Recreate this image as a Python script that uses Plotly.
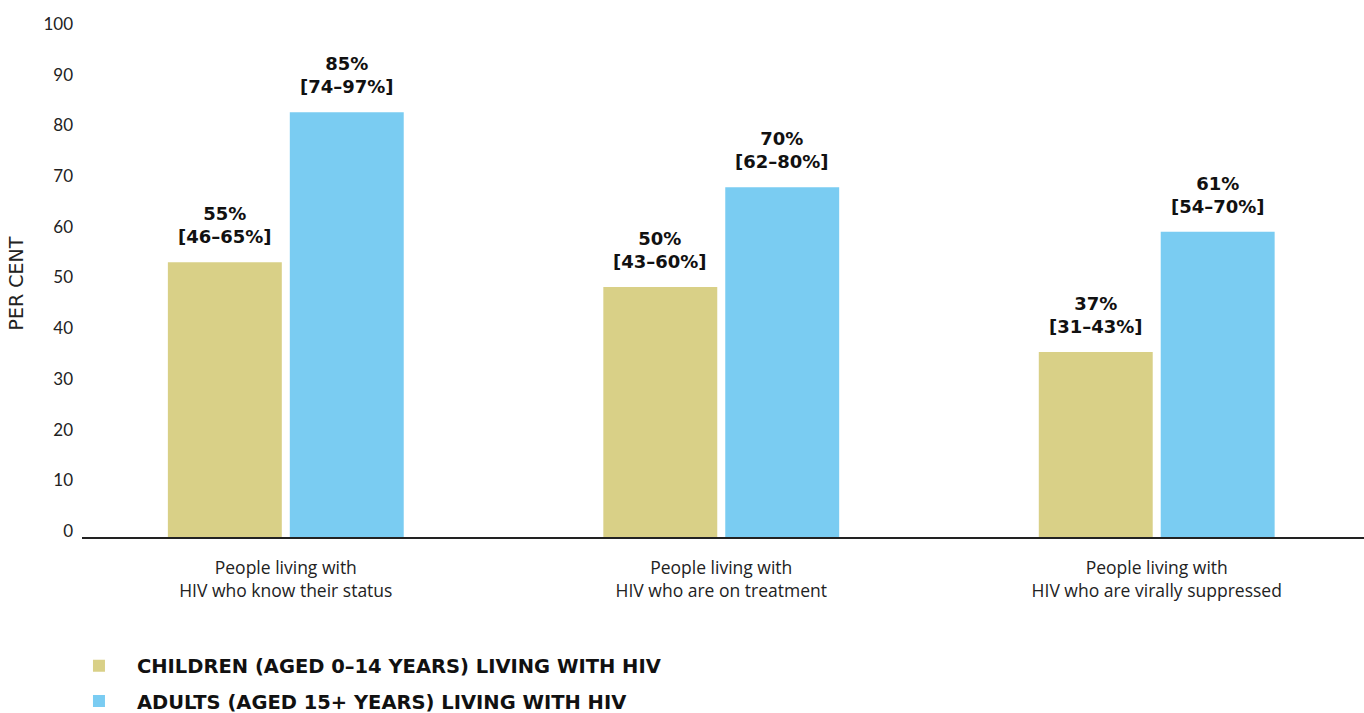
import plotly.graph_objects as go

categories = [
    "People living with<br>HIV who know their status",
    "People living with<br>HIV who are on treatment",
    "People living with<br>HIV who are virally suppressed",
]
children_values = [54.2, 49.3, 36.5]
adults_values = [83.8, 69.0, 60.2]
children_pct = ["55%", "50%", "37%"]
children_range = ["[46–65%]", "[43–60%]", "[31–43%]"]
adults_pct = ["85%", "70%", "61%"]
adults_range = ["[74–97%]", "[62–80%]", "[54–70%]"]
y_ticks = [0, 10, 20, 30, 40, 50, 60, 70, 80, 90, 100]

KHAKI = "#D9D087"
BLUE = "#7ACCF2"

fig = go.Figure()
fig.add_trace(go.Bar(
    x=categories, y=children_values, name="CHILDREN (AGED 0–14 YEARS) LIVING WITH HIV",
    marker=dict(color=KHAKI, line=dict(width=0)), legendgroup="c", hoverinfo="skip",
))
fig.add_trace(go.Bar(
    x=categories, y=adults_values, name="ADULTS (AGED 15+ YEARS) LIVING WITH HIV",
    marker=dict(color=BLUE, line=dict(width=0)), legendgroup="a", hoverinfo="skip",
))

label_font = dict(family="DejaVu Sans", size=18, color="#111111", weight="bold")
for i in range(len(categories)):
    for off, vals, pct, rng in ((-0.14, children_values, children_pct, children_range),
                                (0.14, adults_values, adults_pct, adults_range)):
        fig.add_annotation(
            x=i + off, y=vals[i], xref="x", yref="y",
            text=f"{pct[i]}<br>{rng[i]}", showarrow=False,
            yanchor="bottom", yshift=13, font=label_font, align="center",
        )

fig.update_layout(
    width=1364, height=713,
    margin=dict(l=82, r=0, t=30, b=176, autoexpand=False),
    paper_bgcolor="white", plot_bgcolor="white",
    barmode="group", bargap=0.44, bargroupgap=0.0656,
    showlegend=True,
    legend=dict(
        orientation="v", x=-0.0164, xanchor="left", y=-0.216, yanchor="top",
        font=dict(family="DejaVu Sans", size=19.5, color="#111111", weight="bold"),
        tracegroupgap=7, itemwidth=66, traceorder="grouped",
        bgcolor="rgba(0,0,0,0)",
    ),
    font=dict(family="Lato", color="#222222"),
)
fig.update_xaxes(
    range=[-0.468, 2.476], showline=True, linecolor="#222222", linewidth=1.5,
    showgrid=False, ticks="", tickfont=dict(family="Open Sans", size=17.5, color="#222222"),
    zeroline=False, fixedrange=True, automargin=False, ticklabelstandoff=14,
)
fig.update_yaxes(
    range=[0, 100], tickvals=y_ticks, ticktext=[str(v) for v in y_ticks],
    showgrid=False, zeroline=False, showline=False, ticks="",
    tickfont=dict(family="Lato", size=17, color="#222222"),
    ticklabelstandoff=8, ticklabelshift=-6, automargin=False,
    title=dict(text="PER CENT", font=dict(family="DejaVu Sans", size=19, color="#222222"), standoff=14),
    fixedrange=True,
)

fig.write_html(
    "out.html",
    config={"displayModeBar": False},
    post_script="document.body.style.margin='0';document.body.style.overflow='hidden';",
)
